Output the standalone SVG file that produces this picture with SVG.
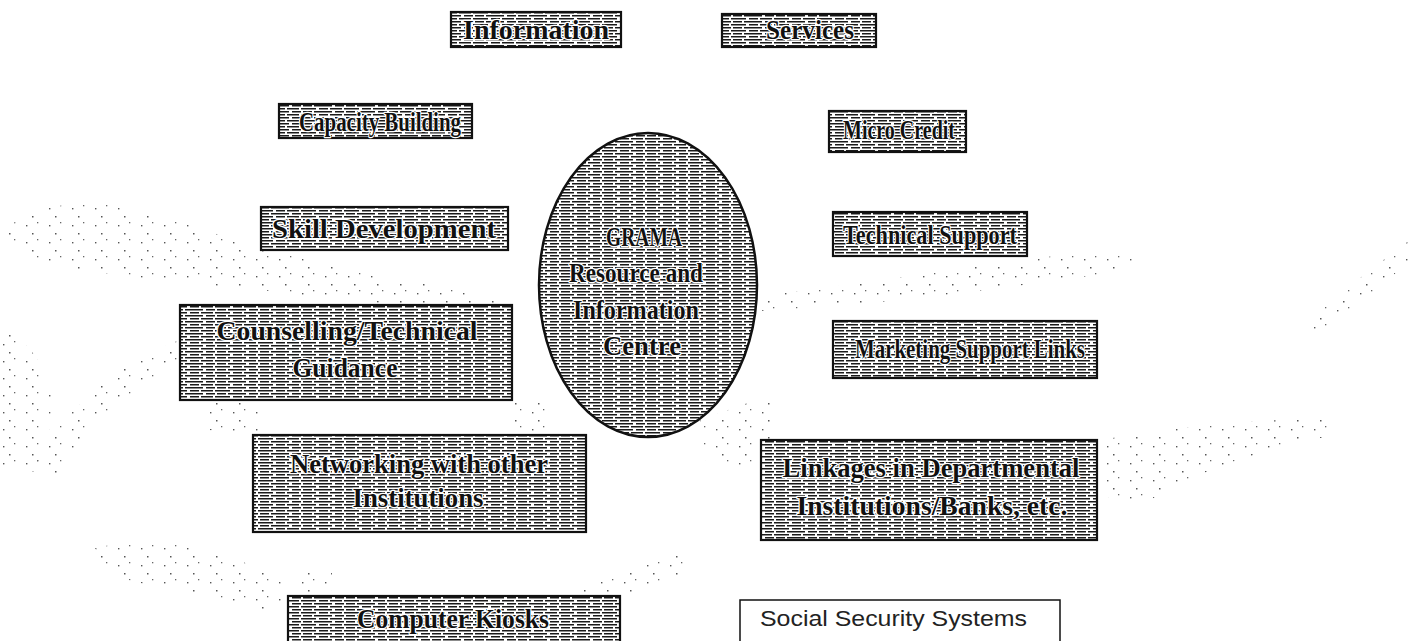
<svg xmlns="http://www.w3.org/2000/svg" width="1413" height="641" viewBox="0 0 1413 641">
<style>
.box{fill:url(#hatch);stroke:#111;stroke-width:2.2}
.plain{fill:#fff;stroke:#111;stroke-width:1.5}
.t{font-family:"Liberation Serif","DejaVu Serif",serif;font-weight:bold;font-size:27px;fill:#111;text-anchor:middle;paint-order:stroke;stroke:#fff;stroke-width:2.5px;stroke-linejoin:round}
.s{font-family:"Liberation Sans","DejaVu Sans",sans-serif;font-size:22px;fill:#222}
.blob{fill:url(#dots);stroke:none}
</style>
<defs>
<pattern id="hatch" width="43" height="6" patternUnits="userSpaceOnUse">
<rect width="43" height="6" fill="#fff"/>
<g stroke="#1a1a1a" stroke-width="1.5">
<line x1="0" y1="0.75" x2="15" y2="0.75"/><line x1="18" y1="0.75" x2="27" y2="0.75"/><line x1="29" y1="0.75" x2="41" y2="0.75"/>
<line x1="2" y1="3.75" x2="11" y2="3.75"/><line x1="13" y1="3.75" x2="31" y2="3.75"/><line x1="34" y1="3.75" x2="43" y2="3.75"/>
</g>
</pattern>
<pattern id="dots" width="23" height="17" patternUnits="userSpaceOnUse">
<rect x="3" y="4" width="1.4" height="1.4" fill="#555"/>
<rect x="14" y="1" width="1.3" height="1.3" fill="#666"/>
<rect x="9" y="12" width="1.5" height="1.5" fill="#555"/>
</pattern>
</defs>
<rect width="1413" height="641" fill="#fff"/>
<g id="background-hands">
<path class="blob" d="M2,232 C30,205 90,195 140,210 C200,228 260,250 340,268 C400,280 460,290 505,300 L500,312 C430,308 340,300 260,290 C180,282 100,275 40,262 C15,255 2,245 2,232 Z"/>
<path class="blob" d="M185,338 C130,358 70,400 28,470 L55,478 C90,420 140,380 190,360 Z"/>
<path class="blob" d="M0,330 C25,338 45,360 52,400 L45,470 L0,470 Z"/>
<path class="blob" d="M200,402 L260,402 L262,432 L205,430 Z"/>
<path class="blob" d="M512,395 L550,400 L545,445 L515,440 Z"/>
<path class="blob" d="M745,298 C850,285 950,270 1040,258 C1080,252 1120,250 1135,256 L1130,270 C1060,280 980,292 900,300 C840,306 780,310 745,312 Z"/>
<path class="blob" d="M1300,330 C1330,300 1370,270 1410,240 L1413,258 C1380,288 1340,318 1315,338 Z"/>
<path class="blob" d="M1100,440 C1160,430 1230,420 1340,418 L1335,435 C1260,450 1200,470 1150,500 L1110,505 Z"/>
<path class="blob" d="M95,548 C150,535 230,545 285,585 L285,615 C230,600 160,590 110,575 Z"/>
<path class="blob" d="M570,590 C610,575 650,560 690,548 L692,570 C660,585 620,600 575,605 Z"/>
<path class="blob" d="M300,572 L332,572 L330,610 L305,608 Z"/>
<path class="blob" d="M700,420 L770,395 L775,470 L705,460 Z"/>
</g>
<g id="connectors"></g>
<g id="centre">
<ellipse cx="648" cy="285" rx="109" ry="152" fill="url(#hatch)" stroke="#111" stroke-width="2.5"/>
<text class="t" x="644" y="246" textLength="76" lengthAdjust="spacingAndGlyphs">GRAMA</text>
<text class="t" x="636" y="282" textLength="134" lengthAdjust="spacingAndGlyphs">Resource and</text>
<text class="t" x="636" y="319" textLength="126" lengthAdjust="spacingAndGlyphs">Information</text>
<text class="t" x="642" y="355" textLength="78" lengthAdjust="spacingAndGlyphs">Centre</text>
</g>
<g id="information"><rect class="box" x="451" y="12" width="170" height="35"/><text class="t" x="536" y="39" textLength="146" lengthAdjust="spacingAndGlyphs">Information</text></g>
<g id="services"><rect class="box" x="722" y="14" width="154" height="33"/><text class="t" x="810" y="39" textLength="88" lengthAdjust="spacingAndGlyphs">Services</text></g>
<g id="capacity-building"><rect class="box" x="279" y="104" width="193" height="34"/><text class="t" x="380" y="131" textLength="162" lengthAdjust="spacingAndGlyphs">Capacity Building</text></g>
<g id="micro-credit"><rect class="box" x="829" y="111" width="137" height="41"/><text class="t" x="899" y="139" textLength="112" lengthAdjust="spacingAndGlyphs">Micro Credit</text></g>
<g id="skill-development"><rect class="box" x="261" y="207" width="247" height="43"/><text class="t" x="384" y="238" textLength="224" lengthAdjust="spacingAndGlyphs">Skill Development</text></g>
<g id="technical-support"><rect class="box" x="833" y="212" width="194" height="44"/><text class="t" x="930" y="244" textLength="174" lengthAdjust="spacingAndGlyphs">Technical Support</text></g>
<g id="counselling"><rect class="box" x="180" y="305" width="332" height="95"/><text class="t" x="347" y="340" textLength="261" lengthAdjust="spacingAndGlyphs">Counselling/Technical</text><text class="t" x="345" y="377" textLength="105" lengthAdjust="spacingAndGlyphs">Guidance</text></g>
<g id="marketing-support"><rect class="box" x="833" y="321" width="264" height="57"/><text class="t" x="970" y="358" textLength="230" lengthAdjust="spacingAndGlyphs">Marketing Support Links</text></g>
<g id="networking"><rect class="box" x="253" y="435" width="333" height="97"/><text class="t" x="419" y="473" textLength="258" lengthAdjust="spacingAndGlyphs">Networking with other</text><text class="t" x="418" y="507" textLength="131" lengthAdjust="spacingAndGlyphs">Institutions</text></g>
<g id="linkages"><rect class="box" x="761" y="440" width="336" height="100"/><text class="t" x="931" y="477" textLength="297" lengthAdjust="spacingAndGlyphs">Linkages in Departmental</text><text class="t" x="932" y="515" textLength="271" lengthAdjust="spacingAndGlyphs">Institutions/Banks, etc.</text></g>
<g id="computer-kiosks"><rect class="box" x="288" y="596" width="332" height="55"/><text class="t" x="453" y="628" textLength="192" lengthAdjust="spacingAndGlyphs">Computer Kiosks</text></g>
<g id="social-security"><rect class="plain" x="740" y="600" width="320" height="55"/><text class="s" x="760" y="626" textLength="267" lengthAdjust="spacingAndGlyphs">Social Security Systems</text></g>
</svg>
